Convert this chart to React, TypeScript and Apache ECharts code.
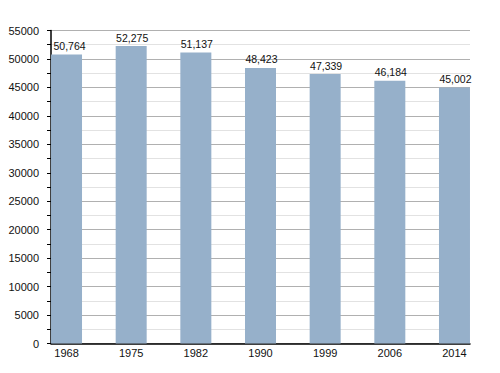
import React, { useEffect, useRef } from "react";
import * as echarts from "echarts";

const years = ["1968", "1975", "1982", "1990", "1999", "2006", "2014"];
const population = [50764, 52275, 51137, 48423, 47339, 46184, 45002];
const yTicks = [0, 5000, 10000, 15000, 20000, 25000, 30000, 35000, 40000, 45000, 50000, 55000];

export default function App() {
  const ref = useRef<HTMLDivElement>(null);
  useEffect(() => {
    if (!ref.current) return;
    const chart = echarts.init(ref.current, undefined, { renderer: "svg" });
    const font = "Liberation Sans, Arial, sans-serif";
    chart.setOption({
      animation: false,
      grid: { left: 51, right: 30, top: 30.5, bottom: 29.5, containLabel: false },
      xAxis: {
        type: "value",
        min: -0.24,
        max: 6.24,
        axisLine: { show: true, onZero: false, lineStyle: { color: "#000", width: 1.5 } },
        axisTick: { show: false },
        splitLine: { show: false },
        axisLabel: {
          customValues: years.map((_, i) => i),
          formatter: (v: number) => years[Math.round(v)] ?? "",
          color: "#111",
          fontSize: 11,
          fontFamily: font,
          margin: 4,
        },
      },
      yAxis: {
        type: "value",
        min: yTicks[0],
        max: yTicks[yTicks.length - 1],
        interval: 5000,
        axisLine: { show: true, onZero: false, lineStyle: { color: "#000", width: 1.5 } },
        axisTick: { show: true, length: 4, lineStyle: { color: "#000" } },
        minorTick: { show: true, splitNumber: 2, length: 4, lineStyle: { color: "#000" } },
        splitLine: { show: true, lineStyle: { color: "#b0b0b0", width: 1 } },
        minorSplitLine: { show: true, lineStyle: { color: "#e2e2e2", width: 1 } },
        axisLabel: {
          color: "#111",
          fontSize: 11,
          fontFamily: font,
          margin: 12,
          formatter: (v: number) => String(v),
        },
      },
      series: [
        {
          type: "bar",
          data: population.map((v, i) =>
            i === 0 ? { value: [i, v], label: { offset: [3, 0] } } : [i, v]
          ),
          barWidth: 31,
          itemStyle: { color: "#96b0ca" },
          label: {
            show: true,
            position: "top",
            distance: 3,
            offset: [1, 0],
            color: "#111",
            fontSize: 10.5,
            fontFamily: font,
            formatter: (p: any) => p.value[1].toLocaleString("en-US"),
          },
        },
      ],
    });
    return () => chart.dispose();
  }, []);
  return <div ref={ref} style={{ width: 500, height: 373, position: "absolute", left: 0, top: 0 }} />;
}
